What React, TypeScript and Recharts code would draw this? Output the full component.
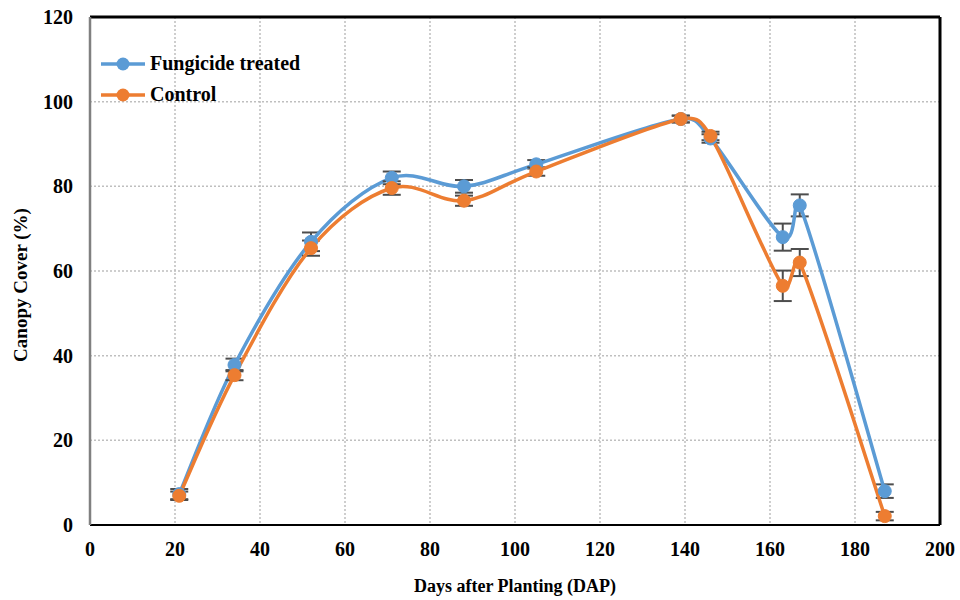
import React from 'react';
import { LineChart, Line, XAxis, YAxis, CartesianGrid, ErrorBar, ReferenceLine, Legend, Label } from 'recharts';

const days = [21, 34, 52, 71, 88, 105, 139, 146, 163, 167, 187];
const fungicide = [7.3, 37.8, 66.9, 82, 80, 85.2, 95.9, 91.3, 68, 75.5, 8];
const fungicideErr = [1.2, 1.5, 2.2, 1.5, 1.5, 1, 0.8, 1, 3.2, 2.6, 1.6];
const control = [6.9, 35.4, 65.4, 79.6, 76.6, 83.5, 95.9, 91.9, 56.5, 62, 2.1];
const controlErr = [1, 1.2, 1.8, 1.6, 1.2, 1, 0.8, 1, 3.6, 3.2, 1];
const xTicks = [0, 20, 40, 60, 80, 100, 120, 140, 160, 180, 200];
const yTicks = [0, 20, 40, 60, 80, 100, 120];

const BLUE = '#5B9BD5';
const ORANGE = '#ED7D31';
const FONT = '"Liberation Serif", "Times New Roman", serif';

const data = days.map((d, i) => ({
  day: d,
  fungicide: fungicide[i],
  fErr: fungicideErr[i],
  control: control[i],
  cErr: controlErr[i],
}));

const seriesInfo = [
  { name: 'Fungicide treated', color: BLUE },
  { name: 'Control', color: ORANGE },
];

// Excel-like smoothed curve (Bezier, tension 1/6, limited on short segments)
function excelCurve(context: any) {
  let pts: [number, number][] = [];
  return {
    areaStart() {},
    areaEnd() {},
    lineStart() {
      pts = [];
    },
    point(x: number, y: number) {
      pts.push([+x, +y]);
    },
    lineEnd() {
      const n = pts.length;
      if (n === 0) return;
      context.moveTo(pts[0][0], pts[0][1]);
      if (n === 1) return;
      for (let i = 0; i < n - 1; i++) {
        const p0 = pts[Math.max(i - 1, 0)];
        const p1 = pts[i];
        const p2 = pts[i + 1];
        const p3 = pts[Math.min(i + 2, n - 1)];
        const d12 = Math.hypot(p2[0] - p1[0], p2[1] - p1[1]);
        const ax = p2[0] - p0[0];
        const ay = p2[1] - p0[1];
        const la = Math.hypot(ax, ay) || 1;
        let f1 = 1 / 6;
        if (la * f1 > d12 / 2) f1 = d12 / 2 / la;
        const bx = p3[0] - p1[0];
        const by = p3[1] - p1[1];
        const lb = Math.hypot(bx, by) || 1;
        let f2 = 1 / 6;
        if (lb * f2 > d12 / 2) f2 = d12 / 2 / lb;
        context.bezierCurveTo(
          p1[0] + ax * f1,
          p1[1] + ay * f1,
          p2[0] - bx * f2,
          p2[1] - by * f2,
          p2[0],
          p2[1]
        );
      }
    },
  };
}

const renderLegend = () => (
  <div style={{ fontFamily: FONT, fontWeight: 'bold', fontSize: 20, color: '#000' }}>
    {seriesInfo.map((s) => (
      <div key={s.name} style={{ display: 'flex', alignItems: 'center', height: 31 }}>
        <svg width={46} height={16}>
          <line x1={1} y1={8} x2={45} y2={8} stroke={s.color} strokeWidth={3.5} />
          <circle cx={23} cy={8} r={6.5} fill={s.color} />
        </svg>
        <span style={{ marginLeft: 4, whiteSpace: 'nowrap' }}>{s.name}</span>
      </div>
    ))}
  </div>
);

const tickStyle = { fontFamily: FONT, fontWeight: 'bold', fontSize: 20, fill: '#000' };

export default function App() {
  return (
    <div style={{ position: 'absolute', left: 0, top: 0, width: 960, height: 600, background: '#fff' }}>
      <LineChart width={960} height={600} data={data} margin={{ top: 17, right: 20, left: 0, bottom: 0 }}>
        <CartesianGrid stroke="#bfbfbf" strokeDasharray="2 2" strokeWidth={1.5} />
        <XAxis
          type="number"
          dataKey="day"
          domain={[0, 200]}
          ticks={xTicks}
          height={75}
          tickSize={0}
          tickMargin={17}
          tick={tickStyle}
          axisLine={{ stroke: '#000', strokeWidth: 2 }}
          tickLine={false}
        >
          <Label
            content={() => (
              <text x={515} y={592} textAnchor="middle" style={{ fontFamily: FONT, fontWeight: 'bold', fontSize: 18, fill: '#000' }}>
                Days after Planting (DAP)
              </text>
            )}
          />
        </XAxis>
        <YAxis
          type="number"
          domain={[0, 120]}
          ticks={yTicks}
          width={90}
          tickSize={0}
          tickMargin={17}
          tick={tickStyle}
          axisLine={{ stroke: '#808080', strokeWidth: 2.5 }}
          tickLine={false}
        >
          <Label
            content={() => (
              <text
                x={27}
                y={285}
                transform="rotate(-90 27 285)"
                textAnchor="middle"
                style={{ fontFamily: FONT, fontWeight: 'bold', fontSize: 19, fill: '#000' }}
              >
                Canopy Cover (%)
              </text>
            )}
          />
        </YAxis>
        <ReferenceLine y={120} stroke="#000" strokeWidth={3} />
        <ReferenceLine x={200} stroke="#000" strokeWidth={3} />
        <Legend
          layout="vertical"
          align="center"
          verticalAlign="middle"
          content={renderLegend}
          wrapperStyle={{ position: 'absolute', left: 100, top: 48, width: 'auto', height: 'auto' }}
        />
        <Line
          name="Fungicide treated"
          dataKey="fungicide"
          type={excelCurve as any}
          stroke={BLUE}
          strokeWidth={3.5}
          dot={{ r: 6.5, fill: BLUE, stroke: BLUE, strokeWidth: 1 }}
          isAnimationActive={false}
        >
          <ErrorBar dataKey="fErr" direction="y" width={9} stroke="#4d4d4d" strokeWidth={2} />
        </Line>
        <Line
          name="Control"
          dataKey="control"
          type={excelCurve as any}
          stroke={ORANGE}
          strokeWidth={3.5}
          dot={{ r: 6.5, fill: ORANGE, stroke: ORANGE, strokeWidth: 1 }}
          isAnimationActive={false}
        >
          <ErrorBar dataKey="cErr" direction="y" width={9} stroke="#4d4d4d" strokeWidth={2} />
        </Line>
      </LineChart>
    </div>
  );
}
